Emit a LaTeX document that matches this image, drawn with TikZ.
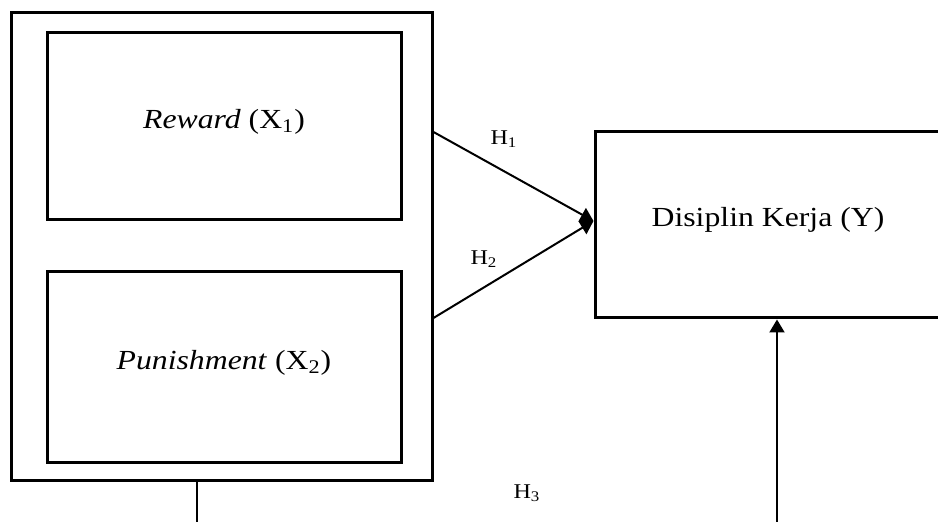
\documentclass[tikz,border=0pt]{standalone}
\usepackage{fontspec}
\setmainfont[FakeStretch=1.15]{Liberation Serif}
\usepackage{tikz}
\usetikzlibrary{arrows.meta,positioning,calc}

\tikzset{
  box/.style={draw, line width=1.5pt, inner sep=0pt, text height=10pt, text depth=8pt,
    font=\fontsize{13.8}{16}\selectfont},
  link/.style={line width=1pt, -{Triangle[length=6.5pt,width=7.5pt]}},
  hyp/.style={font=\fontsize{10.5}{12}\selectfont, inner sep=0pt}
}

\begin{document}
\begin{tikzpicture}[x=0.5pt, y=-0.5pt]
      \useasboundingbox (0,0) rectangle (938,522);
      \clip (0,0) rectangle (938,522);

      % outer group and the two variables inside it
      \node[box, minimum width=210.5pt, minimum height=234pt] (grp) at (221.5,247) {};
      \node[box, minimum width=177pt, minimum height=93.5pt] (X1) at (224,126.5) {\textit{Reward} (X\textsubscript{1})};
      \node[box, minimum width=177pt, minimum height=95.5pt] (X2) at (224,367.5) {\textit{Punishment} (X\textsubscript{2})};

      \node[box, minimum width=173pt, minimum height=93pt] (Y) at (768,225) {Disiplin Kerja (Y)};

      % Define the edges
      \draw[link] ([yshift=57.5pt]grp.east) -- ([yshift=2pt]Y.west);
      \draw[link] ([yshift=-35.5pt]grp.east) -- ([yshift=2pt]Y.west);

      \coordinate (lowL) at (197,522);
      \coordinate (lowR) at (777,522);
      \draw[line width=1pt] (grp.south -| lowL) -- (lowL);
      \draw[link] (lowR) -- (lowR |- Y.south);

      \node[hyp] (H1) at (504,139) {H\textsubscript{1}};
      \node[hyp] (H2) at (484,259) {H\textsubscript{2}};
      \node[hyp] (H3) at (527,493) {H\textsubscript{3}};
\end{tikzpicture}
\end{document}
